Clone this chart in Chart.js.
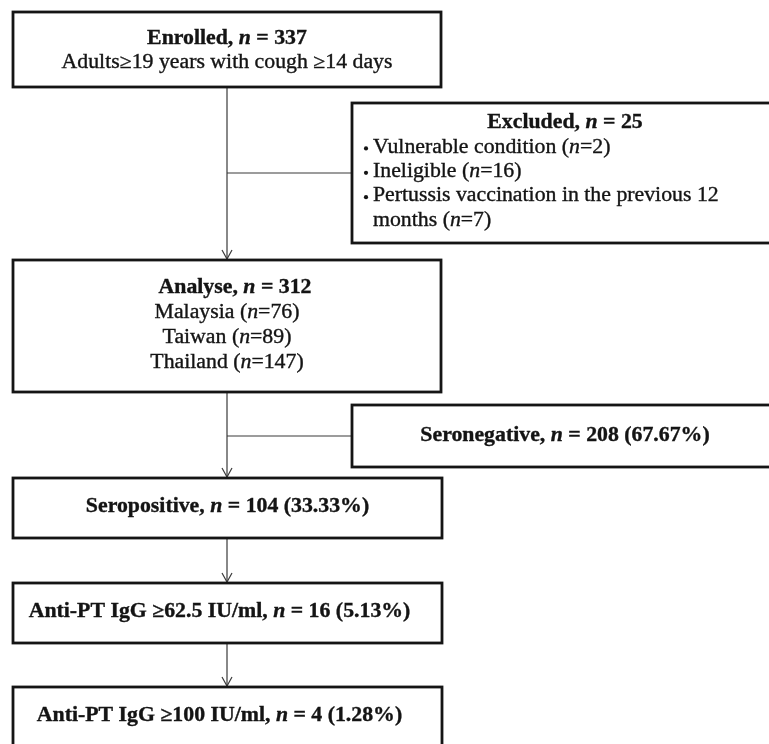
<!DOCTYPE html>
<html>
<head>
<meta charset="utf-8">
<script src="https://cdn.jsdelivr.net/npm/chart.js@4"></script>
<style>
  html, body { margin: 0; padding: 0; background: #fff; }
  canvas { display: block; }
</style>
</head>
<body>
<canvas id="flow" width="769" height="744"></canvas>
<script>
// numbers
const enrolledN = 337;
const enrolledCriteria = "Adults≥19 years with cough ≥14 days";
const excludedN = 25;
const exclusionReasons = ["Vulnerable condition", "Ineligible", "Pertussis vaccination in the previous 12 months"];
const exclusionCounts = [2, 16, 7];
const analysedN = 312;
const countries = ["Malaysia", "Taiwan", "Thailand"];
const countryCounts = [76, 89, 147];
const stageLabels = ["Seronegative", "Seropositive", "Anti-PT IgG ≥62.5 IU/ml", "Anti-PT IgG ≥100 IU/ml"];
const stageCounts = [208, 104, 16, 4];
const stagePercents = ["67.67", "33.33", "5.13", "1.28"];

// layout of the boxes, in canvas units (x right, y down)
const W = 769, H = 744;
const FONT = '"Liberation Serif", "Times New Roman", serif';
const SIZE = 20;
const SX = 1.09; // the source type is a little wide
const boxes = {
  enrolled: { x0: 13, x1: 441, y0: 12, y1: 87, firstY: 39, gap: 24 },
  excluded: { x0: 352, x1: 778, y0: 103, y1: 243, firstY: 123, gap: 24.4, textX: 373 },
  analysed: { x0: 13, x1: 441, y0: 260, y1: 392, firstY: 288, gap: 25, titleDx: 8 },
  seroneg:  { x0: 352, x1: 778, y0: 405, y1: 467, firstY: 436, gap: 0 },
  seropos:  { x0: 13, x1: 442, y0: 478, y1: 538, firstY: 507, gap: 0 },
  anti62:   { x0: 13, x1: 442, y0: 583, y1: 643, firstY: 612, gap: 0, titleDx: -8 },
  anti100:  { x0: 13, x1: 442, y0: 687, y1: 748, firstY: 716, gap: 0, titleDx: -8 }
};

// "_" toggles italic inside a string
function parse(text, bold) {
  return text.split("_").map((t, i) => ({ t: t, b: bold, i: i % 2 === 1 })).filter(s => s.t.length);
}

const lines = {
  enrolled: [parse("Enrolled, _n_ = " + enrolledN, true), parse(enrolledCriteria, false)],
  excluded: [parse("Excluded, _n_ = " + excludedN, true)].concat(
    exclusionReasons.map((r, i) => ({ bullet: true, segs: parse(r + " (_n_=" + exclusionCounts[i] + ")", false) }))
  ),
  analysed: [parse("Analyse, _n_ = " + analysedN, true)].concat(
    countries.map((c, i) => parse(c + " (_n_=" + countryCounts[i] + ")", false))
  ),
  seroneg: [parse(stageLabels[0] + ", _n_ = " + stageCounts[0] + " (" + stagePercents[0] + "%)", true)],
  seropos: [parse(stageLabels[1] + ", _n_ = " + stageCounts[1] + " (" + stagePercents[1] + "%)", true)],
  anti62: [parse(stageLabels[2] + ", _n_ = " + stageCounts[2] + " (" + stagePercents[2] + "%)", true)],
  anti100: [parse(stageLabels[3] + ", _n_ = " + stageCounts[3] + " (" + stagePercents[3] + "%)", true)]
};

// vertical spine through the left column, with arrows into each box
const spineX = (boxes.enrolled.x0 + boxes.enrolled.x1) / 2;
const spine = [
  [boxes.enrolled.y1, boxes.analysed.y0],
  [boxes.analysed.y1, boxes.seropos.y0],
  [boxes.seropos.y1, boxes.anti62.y0],
  [boxes.anti62.y1, boxes.anti100.y0]
];
const branches = [boxes.excluded, boxes.seroneg];

function fontFor(s) {
  return (s.i ? "italic " : "") + (s.b ? "bold " : "") + SIZE + "px " + FONT;
}

function textW(ctx, s) {
  ctx.font = fontFor(s);
  return ctx.measureText(s.t).width * SX;
}

function segWidth(ctx, segs) {
  return segs.reduce((w, s) => w + textW(ctx, s), 0);
}

function drawSegs(ctx, segs, x, y) {
  segs.forEach(s => {
    const w = textW(ctx, s);
    ctx.save();
    ctx.translate(x, y);
    ctx.scale(SX, 1);
    ctx.fillText(s.t, 0, 0);
    ctx.lineWidth = 0.35;
    ctx.strokeText(s.t, 0, 0);
    ctx.restore();
    x += w;
  });
}

// greedy word wrap over styled segments
function wrap(ctx, segs, maxW) {
  const words = [];
  segs.forEach(s => s.t.split(/(\s+)/).forEach(w => { if (w) words.push({ t: w, b: s.b, i: s.i }); }));
  const out = [[]];
  let w = 0;
  words.forEach(wd => {
    const ww = textW(ctx, wd);
    if (w + ww > maxW && /\S/.test(wd.t) && out[out.length - 1].length) {
      out.push([]);
      w = 0;
    }
    if (!out[out.length - 1].length && !/\S/.test(wd.t)) return;
    out[out.length - 1].push(wd);
    w += ww;
  });
  return out;
}

const flowPlugin = {
  id: "flow",
  afterDatasetsDraw(chart) {
    const ctx = chart.ctx;
    const sx = v => chart.scales.x.getPixelForValue(v);
    const sy = v => chart.scales.y.getPixelForValue(v);
    ctx.save();

    // arrow heads
    ctx.strokeStyle = "#3a3a3a";
    ctx.lineWidth = 1.2;
    spine.forEach(seg => {
      const x = sx(spineX), y = sy(seg[1]) - 1;
      ctx.beginPath();
      ctx.moveTo(x - 5, y - 9);
      ctx.lineTo(x, y);
      ctx.lineTo(x + 5, y - 9);
      ctx.stroke();
    });

    // boxes
    ctx.strokeStyle = "#151515";
    ctx.lineWidth = 2.8;
    Object.values(boxes).forEach(b => {
      ctx.fillStyle = "#fff";
      ctx.fillRect(sx(b.x0), sy(b.y0), sx(b.x1) - sx(b.x0), sy(b.y1) - sy(b.y0));
      ctx.strokeRect(sx(b.x0), sy(b.y0), sx(b.x1) - sx(b.x0), sy(b.y1) - sy(b.y0));
    });

    // text
    ctx.fillStyle = "#141414";
    ctx.strokeStyle = "#141414";
    ctx.textBaseline = "middle";
    ctx.textAlign = "left";
    Object.keys(lines).forEach(key => {
      const b = boxes[key];
      const cx = sx((b.x0 + b.x1) / 2);
      let row = 0;
      lines[key].forEach(ln => {
        if (ln.bullet) {
          const tx = sx(b.textX);
          const rows = wrap(ctx, ln.segs, sx(726) - tx);
          rows.forEach((r, k) => {
            const y = sy(b.firstY + row * b.gap);
            if (k === 0) {
              ctx.beginPath();
              ctx.arc(tx - 7, y + 1, 2.1, 0, Math.PI * 2);
              ctx.fill();
            }
            drawSegs(ctx, r, tx, y);
            row++;
          });
        } else {
          const y = sy(b.firstY + row * b.gap);
          const dx = row === 0 && b.titleDx ? b.titleDx : 0;
          drawSegs(ctx, ln, cx + dx - segWidth(ctx, ln) / 2, y);
          row++;
        }
      });
    });
    ctx.restore();
  }
};

const lineData = spine.map(s => [{ x: spineX, y: s[0] }, { x: spineX, y: s[1] - 1 }])
  .concat(branches.map(b => [{ x: spineX, y: (b.y0 + b.y1) / 2 }, { x: b.x0, y: (b.y0 + b.y1) / 2 }]));

new Chart(document.getElementById("flow"), {
  type: "scatter",
  data: {
    datasets: lineData.map(d => ({
      data: d,
      showLine: true,
      borderColor: "#3a3a3a",
      borderWidth: 1.2,
      pointRadius: 0,
      fill: false
    }))
  },
  options: {
    responsive: false,
    animation: false,
    layout: { padding: 0 },
    plugins: { legend: { display: false }, tooltip: { enabled: false } },
    scales: {
      x: { type: "linear", min: 0, max: W, display: false },
      y: { type: "linear", min: 0, max: H, reverse: true, display: false }
    }
  },
  plugins: [flowPlugin]
});
</script>
</body>
</html>
